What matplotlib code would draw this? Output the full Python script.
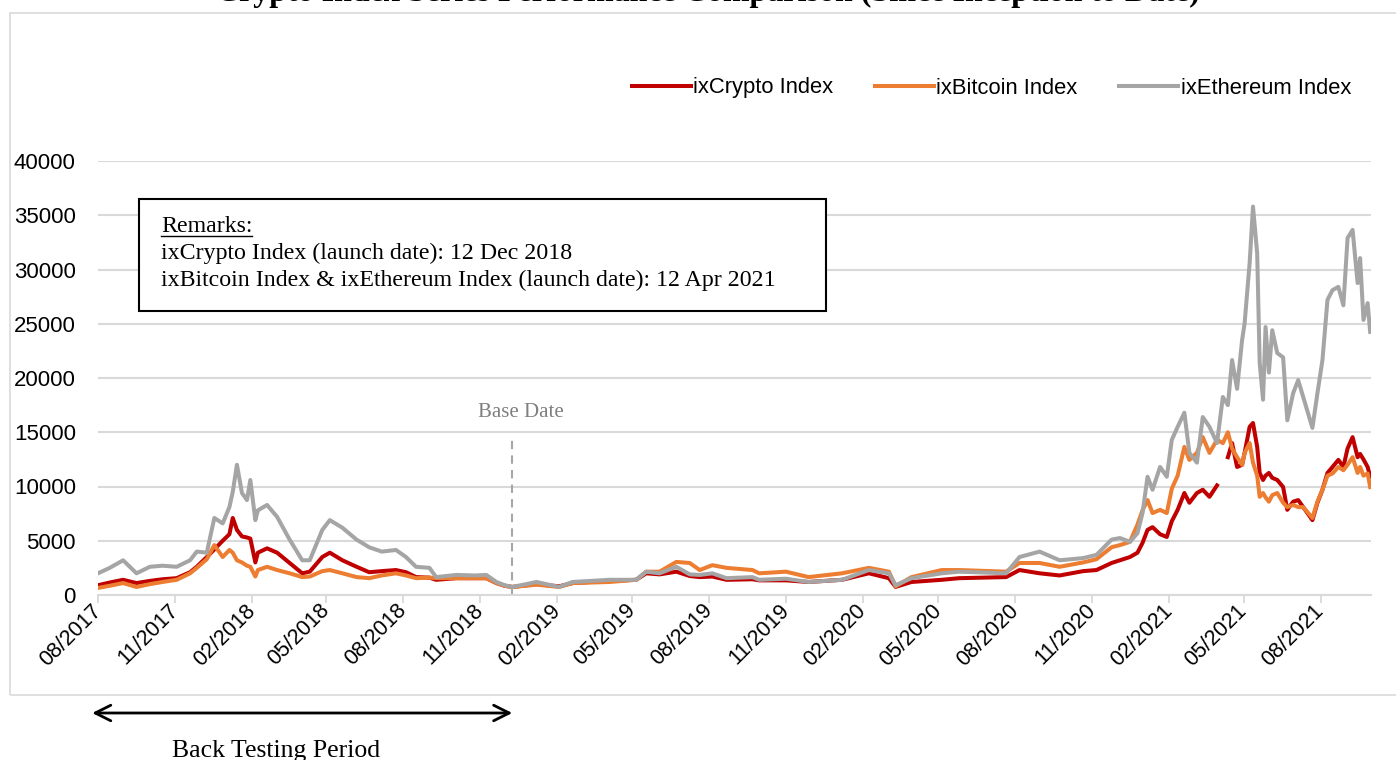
#!/usr/bin/env python3
"""Crypto index series performance comparison line chart."""

import numpy as np
import pandas as pd
import matplotlib
matplotlib.use("Agg")
import matplotlib.pyplot as plt
import matplotlib.dates as mdates
import matplotlib.transforms as mtransforms
from matplotlib.patches import Rectangle
from matplotlib.lines import Line2D

W, H = 1396, 760

# ---- data ----
dates = [
    "2017-08-01", "2017-08-15", "2017-08-31", "2017-09-16", "2017-10-02", "2017-10-17",
    "2017-11-03", "2017-11-19", "2017-11-27", "2017-12-09", "2017-12-18", "2017-12-28",
    "2018-01-05", "2018-01-09", "2018-01-14", "2018-01-20", "2018-01-26", "2018-01-30",
    "2018-02-05", "2018-02-08", "2018-02-19", "2018-03-03", "2018-03-18", "2018-04-02",
    "2018-04-11", "2018-04-26", "2018-05-05", "2018-05-20", "2018-06-06", "2018-06-21",
    "2018-07-06", "2018-07-23", "2018-08-04", "2018-08-16", "2018-09-01", "2018-09-09",
    "2018-10-03", "2018-10-25", "2018-11-08", "2018-11-20", "2018-11-30", "2018-12-09",
    "2019-01-07", "2019-02-03", "2019-02-19", "2019-04-04", "2019-05-06", "2019-05-18",
    "2019-06-03", "2019-06-23", "2019-07-09", "2019-07-21", "2019-08-05", "2019-08-22",
    "2019-09-22", "2019-09-30", "2019-11-01", "2019-11-28", "2020-01-07", "2020-02-08",
    "2020-03-03", "2020-03-11", "2020-03-30", "2020-05-05", "2020-05-26", "2020-07-21",
    "2020-08-06", "2020-08-30", "2020-09-23", "2020-10-21",
    "2020-11-06", "2020-11-24", "2020-12-04", "2020-12-16", "2020-12-25", "2020-12-31",
    "2021-01-06", "2021-01-12", "2021-01-21", "2021-01-29", "2021-02-04", "2021-02-11",
    "2021-02-19", "2021-02-25", "2021-03-06", "2021-03-13", "2021-03-21", "2021-03-30",
    "2021-04-06", "2021-04-12", "2021-04-17", "2021-04-23", "2021-04-29", "2021-05-02",
    "2021-05-08", "2021-05-12", "2021-05-17", "2021-05-20", "2021-05-24", "2021-05-27",
    "2021-05-31", "2021-06-04", "2021-06-10", "2021-06-17", "2021-06-22", "2021-06-29",
    "2021-07-05", "2021-07-11", "2021-07-22", "2021-07-28", "2021-08-03", "2021-08-09",
    "2021-08-15", "2021-08-22", "2021-08-28", "2021-09-02", "2021-09-08", "2021-09-14",
    "2021-09-17", "2021-09-21", "2021-09-26", "2021-09-29",
]

ixcrypto = [
    900, 1150, 1400, 1100, 1300, 1450,
    1550, 2100, 2600, 3500, 4200, 5000,
    5600, 7100, 6000, 5400, 5300, 5200,
    3000, 3900, 4300, 3900, 2950, 2000,
    2150, 3500, 3900, 3200, 2600, 2100,
    2200, 2300, 2100, 1650, 1600, 1400,
    1550, 1550, 1550, 1100, 850, 740,
    1000, 800, 1100, 1300, 1400, 2000,
    1900, 2150, 1750, 1650, 1700, 1400,
    1450, 1350, 1350, 1200, 1400, 2000,
    1550, 750, 1200, 1400, 1550, 1650,
    2300, 2000, 1800, 2200,
    2300, 2950, 3200, 3500, 3900, 4800,
    6000, 6250, 5600, 5350, 6800, 7850,
    9400, 8500, 9400, 9700, 9050, 10100,
    np.nan, 12700, 14000, 11800, 12000, 13100,
    15500, 15850, 13650, 11250, 10600, 11000,
    11250, 10800, 10600, 9950, 7850, 8600,
    8750, 8100, 6900, 8500, 9700, 11250,
    11800, 12450, 11800, 13500, 14550, 12700,
    13000, 12500, 11800, 10900,
]

ixbitcoin = [
    650, 850, 1100, 740, 1000, 1200,
    1400, 2000, 2500, 3300, 4600, 3500,
    4150, 3900, 3200, 3000, 2700, 2600,
    1700, 2300, 2600, 2300, 2000, 1650,
    1700, 2200, 2300, 2000, 1650, 1550,
    1800, 2000, 1800, 1550, 1600, 1550,
    1550, 1550, 1550, 1100, 850, 740,
    950, 740, 1100, 1200, 1400, 2150,
    2150, 3050, 2950, 2300, 2750, 2500,
    2300, 2000, 2150, 1650, 2000, 2500,
    2150, 800, 1650, 2300, 2300, 2150,
    2950, 2950, 2600, 3000,
    3300, 4400, 4600, 4900, 6500, 7800,
    8750, 7550, 7850, 7550, 9800, 11000,
    13650, 12450, 13100, 14550, 13100, 14300,
    14000, 15000, 13500, 12700, 12000, 13100,
    14000, 12200, 11000, 9050, 9400, 9000,
    8600, 9200, 9400, 8500, 8100, 8300,
    8100, 8100, 7100, 8600, 9700, 11000,
    11200, 11800, 11500, 12000, 12700, 11250,
    11800, 11000, 11200, 9950,
]

ixethereum = [
    2000, 2500, 3200, 2000, 2600, 2700,
    2600, 3200, 4000, 3900, 7100, 6600,
    8100, 9500, 12000, 9400, 8750, 10600,
    6900, 7800, 8300, 7200, 5100, 3200,
    3200, 6000, 6900, 6200, 5100, 4400,
    4000, 4150, 3500, 2600, 2500, 1650,
    1850, 1800, 1850, 1200, 900, 740,
    1200, 740, 1200, 1400, 1400, 2150,
    2000, 2600, 1900, 1850, 2000, 1550,
    1650, 1400, 1500, 1200, 1400, 2300,
    2000, 900, 1550, 2000, 2150, 2000,
    3500, 4000, 3200, 3400,
    3700, 5100, 5250, 4900, 5700, 7550,
    10900, 9700, 11800, 10900, 14300, 15500,
    16800, 13100, 12200, 16400, 15500, 14000,
    18250, 17500, 21650, 19000, 23500, 25050,
    30600, 35800, 31500, 21400, 18000, 24700,
    20500, 24400, 22300, 21900, 16100, 18600,
    19800, 18250, 15400, 18600, 21650, 27200,
    28100, 28400, 26700, 32900, 33650, 28750,
    31050, 25350, 26900, 24250,
]

series_names = ["ixCrypto Index", "ixBitcoin Index", "ixEthereum Index"]
series_colors = ["#C00000", "#ED7D31", "#A5A5A5"]

base_date = "2018-12-09"
backtest_start = "2017-07-25"
remarks = [
    "Remarks:",
    "ixCrypto Index (launch date): 12 Dec 2018",
    "ixBitcoin Index & ixEthereum Index (launch date): 12 Apr 2021",
]
title = "Crypto Index Series Performance Comparison (Since Inception to Date)"


def fx(px):
    return px / W


def fy(py):
    return 1 - py / H


def main():
    sans = ["Liberation Sans", "DejaVu Sans"]
    serif = ["Liberation Serif", "DejaVu Serif"]
    plt.rcParams["font.family"] = sans

    x = pd.to_datetime(dates)
    fig = plt.figure(figsize=(W / 100, H / 100), dpi=100)
    fig.patch.set_facecolor("white")
    ax = fig.add_axes([fx(98), fy(595), fx(1371) - fx(98), fy(161) - fy(595)])

    for vals, name, col in zip([ixcrypto, ixbitcoin, ixethereum], series_names, series_colors):
        ax.plot(x, vals, color=col, lw=2.9, label=name, solid_joinstyle="round")

    # axes styling
    ax.set_ylim(0, 40000)
    ax.set_yticks(np.arange(0, 40001, 5000))
    ax.set_xlim(pd.Timestamp("2017-08-01"), pd.Timestamp("2021-09-30"))
    ticks = pd.date_range("2017-08-01", "2021-08-01", freq="3MS")
    ax.set_xticks(ticks)
    ax.set_xticklabels([t.strftime("%m/%Y") for t in ticks], rotation=45,
                       ha="right", va="center", rotation_mode="anchor", fontsize=15.5)
    ax.tick_params(axis="y", length=0, pad=16, labelsize=16)
    ax.tick_params(axis="x", length=6, width=1.3, color="#d9d9d9", pad=3)
    ax.yaxis.grid(True, color="#d9d9d9", lw=1.5)
    ax.set_axisbelow(True)
    for s in ["top", "right", "left"]:
        ax.spines[s].set_visible(False)
    ax.spines["bottom"].set_color("#d9d9d9")
    ax.spines["bottom"].set_linewidth(1.5)

    # base date marker
    bd = pd.Timestamp(base_date)
    ax.vlines(bd, 0, 14700, colors="#a6a6a6", linestyles=(0, (4, 3)), lw=1.5)
    ax.annotate("Base Date", xy=(bd, 16800), xytext=(9, 0), textcoords="offset pixels",
                ha="center", va="center", fontsize=15, color="#7f7f7f", family=serif)

    # legend
    ax.legend(loc="center right", bbox_to_anchor=(fx(1351), fy(88)),
              bbox_transform=fig.transFigure, ncol=3, frameon=False, fontsize=15.8,
              handlelength=2.7, handletextpad=0.1, columnspacing=1.9,
              borderpad=0, borderaxespad=0)

    # chart-area border
    fig.patches.append(Rectangle((fx(10), fy(695)), 1.2, fy(13) - fy(695),
                                 transform=fig.transFigure, fill=False,
                                 edgecolor="#d9d9d9", lw=1.2))

    # title (cut off at the top, as in the source image)
    fig.text(fx(708), fy(0.5), title, ha="center", va="baseline", fontsize=23,
             fontweight="bold", family=serif)

    # remarks box
    fig.patches.append(Rectangle((fx(139), fy(311)), fx(826) - fx(139), fy(199) - fy(311),
                                 transform=fig.transFigure, fill=True, facecolor="white",
                                 edgecolor="black", lw=1.5, zorder=5))
    txts = []
    for line, by in zip(remarks, [232, 259, 286]):
        t = fig.text(fx(161), fy(by), line, ha="left", va="baseline", fontsize=17.2,
                     family=serif, zorder=6)
        txts.append(t)
    fig.canvas.draw()
    bb = txts[0].get_window_extent()
    fig.lines.append(Line2D([fx(161), bb.x1 / W], [fy(236), fy(236)],
                            transform=fig.transFigure, color="black", lw=1.0, zorder=6))

    # back-testing period arrow
    trans = mtransforms.blended_transform_factory(ax.transData, fig.transFigure)
    x0 = mdates.date2num(pd.Timestamp(backtest_start))
    x1 = mdates.date2num(bd)
    ax.annotate("", xy=(x0, fy(713)), xycoords=trans,
                xytext=(x1, fy(713)), textcoords=trans, annotation_clip=False,
                arrowprops=dict(arrowstyle="<->", lw=2, color="black",
                                mutation_scale=28, shrinkA=0, shrinkB=0))
    fig.text(fx(276), fy(757), "Back Testing Period", ha="center", va="baseline",
             fontsize=18.5, family=serif)

    fig.savefig("out.png", dpi=100, facecolor="white")
    plt.close(fig)


if __name__ == "__main__":
    main()
